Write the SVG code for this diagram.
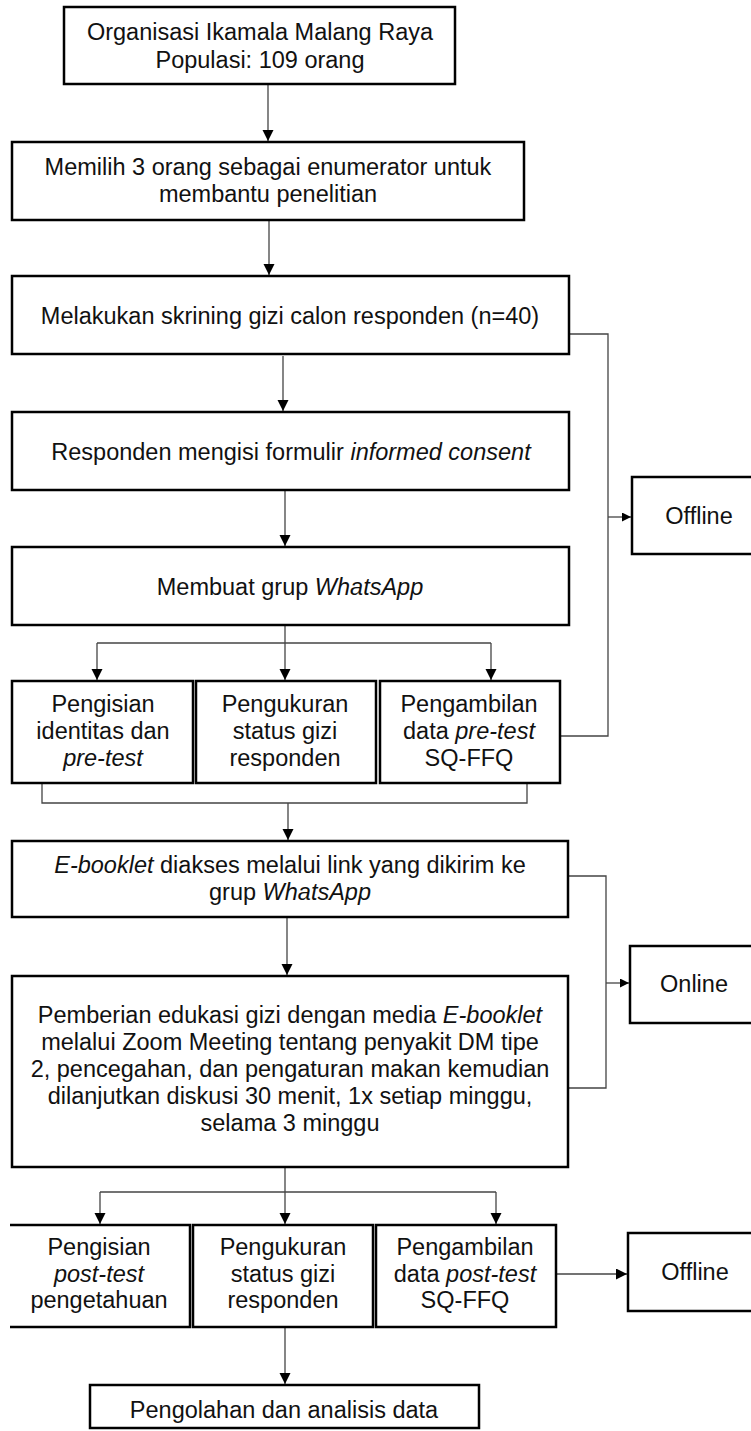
<svg xmlns="http://www.w3.org/2000/svg" width="751" height="1431" viewBox="0 0 751 1431">
<defs>
<marker id="ah" markerUnits="userSpaceOnUse" markerWidth="12" markerHeight="12" refX="11" refY="5.5" orient="auto">
<path d="M0,0 L11,5.5 L0,11 z" fill="#000"/>
</marker>
<marker id="ahs" markerUnits="userSpaceOnUse" markerWidth="10" markerHeight="10" refX="9" refY="4.5" orient="auto">
<path d="M0,0 L9,4.5 L0,9 z" fill="#000"/>
</marker>
</defs>
<style>
.box{fill:#fff;stroke:#000;stroke-width:2.5}
.t{font-family:"Liberation Sans",Arial,sans-serif;font-size:23.5px;fill:#111;text-anchor:middle}
.i{font-style:italic}
.c{fill:none;stroke:#444;stroke-width:1.3}
.ca{fill:none;stroke:#444;stroke-width:1.3;marker-end:url(#ah)}
.cs{fill:none;stroke:#444;stroke-width:1.3;marker-end:url(#ahs)}
</style>
<rect width="751" height="1431" fill="#fff"/>

<g id="connectors">
<path class="ca" d="M268,85 V141"/>
<path class="ca" d="M269,221 V275"/>
<path class="ca" d="M283,356 V411"/>
<path class="ca" d="M285,491 V546"/>
<path class="ca" d="M285,626 V680"/>
<path class="c" d="M97,643 H491"/>
<path class="ca" d="M97,643 V680"/>
<path class="ca" d="M491,643 V680"/>
<path class="c" d="M570,334 H608 V736 H561"/>
<path class="cs" d="M608,517 H631"/>
<path class="c" d="M42,784 V803 H527 V784"/>
<path class="ca" d="M288,803 V840"/>
<path class="c" d="M569,876 H606 V1088 H569"/>
<path class="cs" d="M606,983 H629"/>
<path class="ca" d="M287,918 V975"/>
<path class="ca" d="M285,1168 V1224"/>
<path class="c" d="M100,1192 H496"/>
<path class="ca" d="M100,1192 V1224"/>
<path class="ca" d="M496,1192 V1224"/>
<path class="ca" d="M557,1274 H627"/>
<path class="ca" d="M285,1328 V1384"/>
</g>

<g id="n1"><rect class="box" x="64" y="7" width="391" height="77"/>
<text class="t" x="260" y="40">Organisasi Ikamala Malang Raya</text>
<text class="t" x="260" y="68">Populasi: 109 orang</text></g>

<g id="n2"><rect class="box" x="12" y="142" width="512" height="78"/>
<text class="t" x="268" y="175">Memilih 3 orang sebagai enumerator untuk</text>
<text class="t" x="268" y="202">membantu penelitian</text></g>

<g id="n3"><rect class="box" x="12" y="276" width="557" height="78"/>
<text class="t" x="290" y="324">Melakukan skrining gizi calon responden (n=40)</text></g>

<g id="n4"><rect class="box" x="12" y="412" width="557" height="78"/>
<text class="t" x="291" y="460">Responden mengisi formulir <tspan class="i">informed consent</tspan></text></g>

<g id="n5"><rect class="box" x="12" y="547" width="557" height="78"/>
<text class="t" x="290" y="595">Membuat grup <tspan class="i">WhatsApp</tspan></text></g>

<g id="n6"><rect class="box" x="12" y="681" width="181" height="102"/>
<text class="t" x="103" y="712">Pengisian</text>
<text class="t" x="103" y="739">identitas dan</text>
<text class="t i" x="103" y="766">pre-test</text></g>

<g id="n7"><rect class="box" x="196" y="681" width="180" height="102"/>
<text class="t" x="285" y="712">Pengukuran</text>
<text class="t" x="285" y="739">status gizi</text>
<text class="t" x="285" y="766">responden</text></g>

<g id="n8"><rect class="box" x="380" y="681" width="180" height="102"/>
<text class="t" x="469" y="712">Pengambilan</text>
<text class="t" x="469" y="739">data <tspan class="i">pre-test</tspan></text>
<text class="t" x="469" y="766">SQ-FFQ</text></g>

<g id="n9"><rect class="box" x="632" y="477" width="130" height="77"/>
<text class="t" x="699" y="524">Offline</text></g>

<g id="n10"><rect class="box" x="12" y="841" width="556" height="76"/>
<text class="t" x="290" y="873"><tspan class="i">E-booklet</tspan> diakses melalui link yang dikirim ke</text>
<text class="t" x="290" y="900">grup <tspan class="i">WhatsApp</tspan></text></g>

<g id="n11"><rect class="box" x="12" y="976" width="556" height="191"/>
<text class="t" x="290" y="1023">Pemberian edukasi gizi dengan media <tspan class="i">E-booklet</tspan></text>
<text class="t" x="290" y="1050">melalui Zoom Meeting tentang penyakit DM tipe</text>
<text class="t" x="290" y="1077">2, pencegahan, dan pengaturan makan kemudian</text>
<text class="t" x="290" y="1104">dilanjutkan diskusi 30 menit, 1x setiap minggu,</text>
<text class="t" x="290" y="1131">selama 3 minggu</text></g>

<g id="n12"><rect class="box" x="630" y="946" width="130" height="77"/>
<text class="t" x="694" y="992">Online</text></g>

<g id="n13"><path class="box" d="M10,1225 H190 V1327 H10"/>
<text class="t" x="99" y="1255">Pengisian</text>
<text class="t i" x="99" y="1282">post-test</text>
<text class="t" x="99" y="1308">pengetahuan</text></g>

<g id="n14"><rect class="box" x="193" y="1225" width="180" height="102"/>
<text class="t" x="283" y="1255">Pengukuran</text>
<text class="t" x="283" y="1282">status gizi</text>
<text class="t" x="283" y="1308">responden</text></g>

<g id="n15"><rect class="box" x="376" y="1225" width="180" height="102"/>
<text class="t" x="465" y="1255">Pengambilan</text>
<text class="t" x="465" y="1282">data <tspan class="i">post-test</tspan></text>
<text class="t" x="465" y="1308">SQ-FFQ</text></g>

<g id="n16"><rect class="box" x="628" y="1233" width="130" height="78"/>
<text class="t" x="695" y="1280">Offline</text></g>

<g id="n17"><rect class="box" x="90" y="1385" width="389" height="43"/>
<text class="t" x="284" y="1418">Pengolahan dan analisis data</text></g>
</svg>
